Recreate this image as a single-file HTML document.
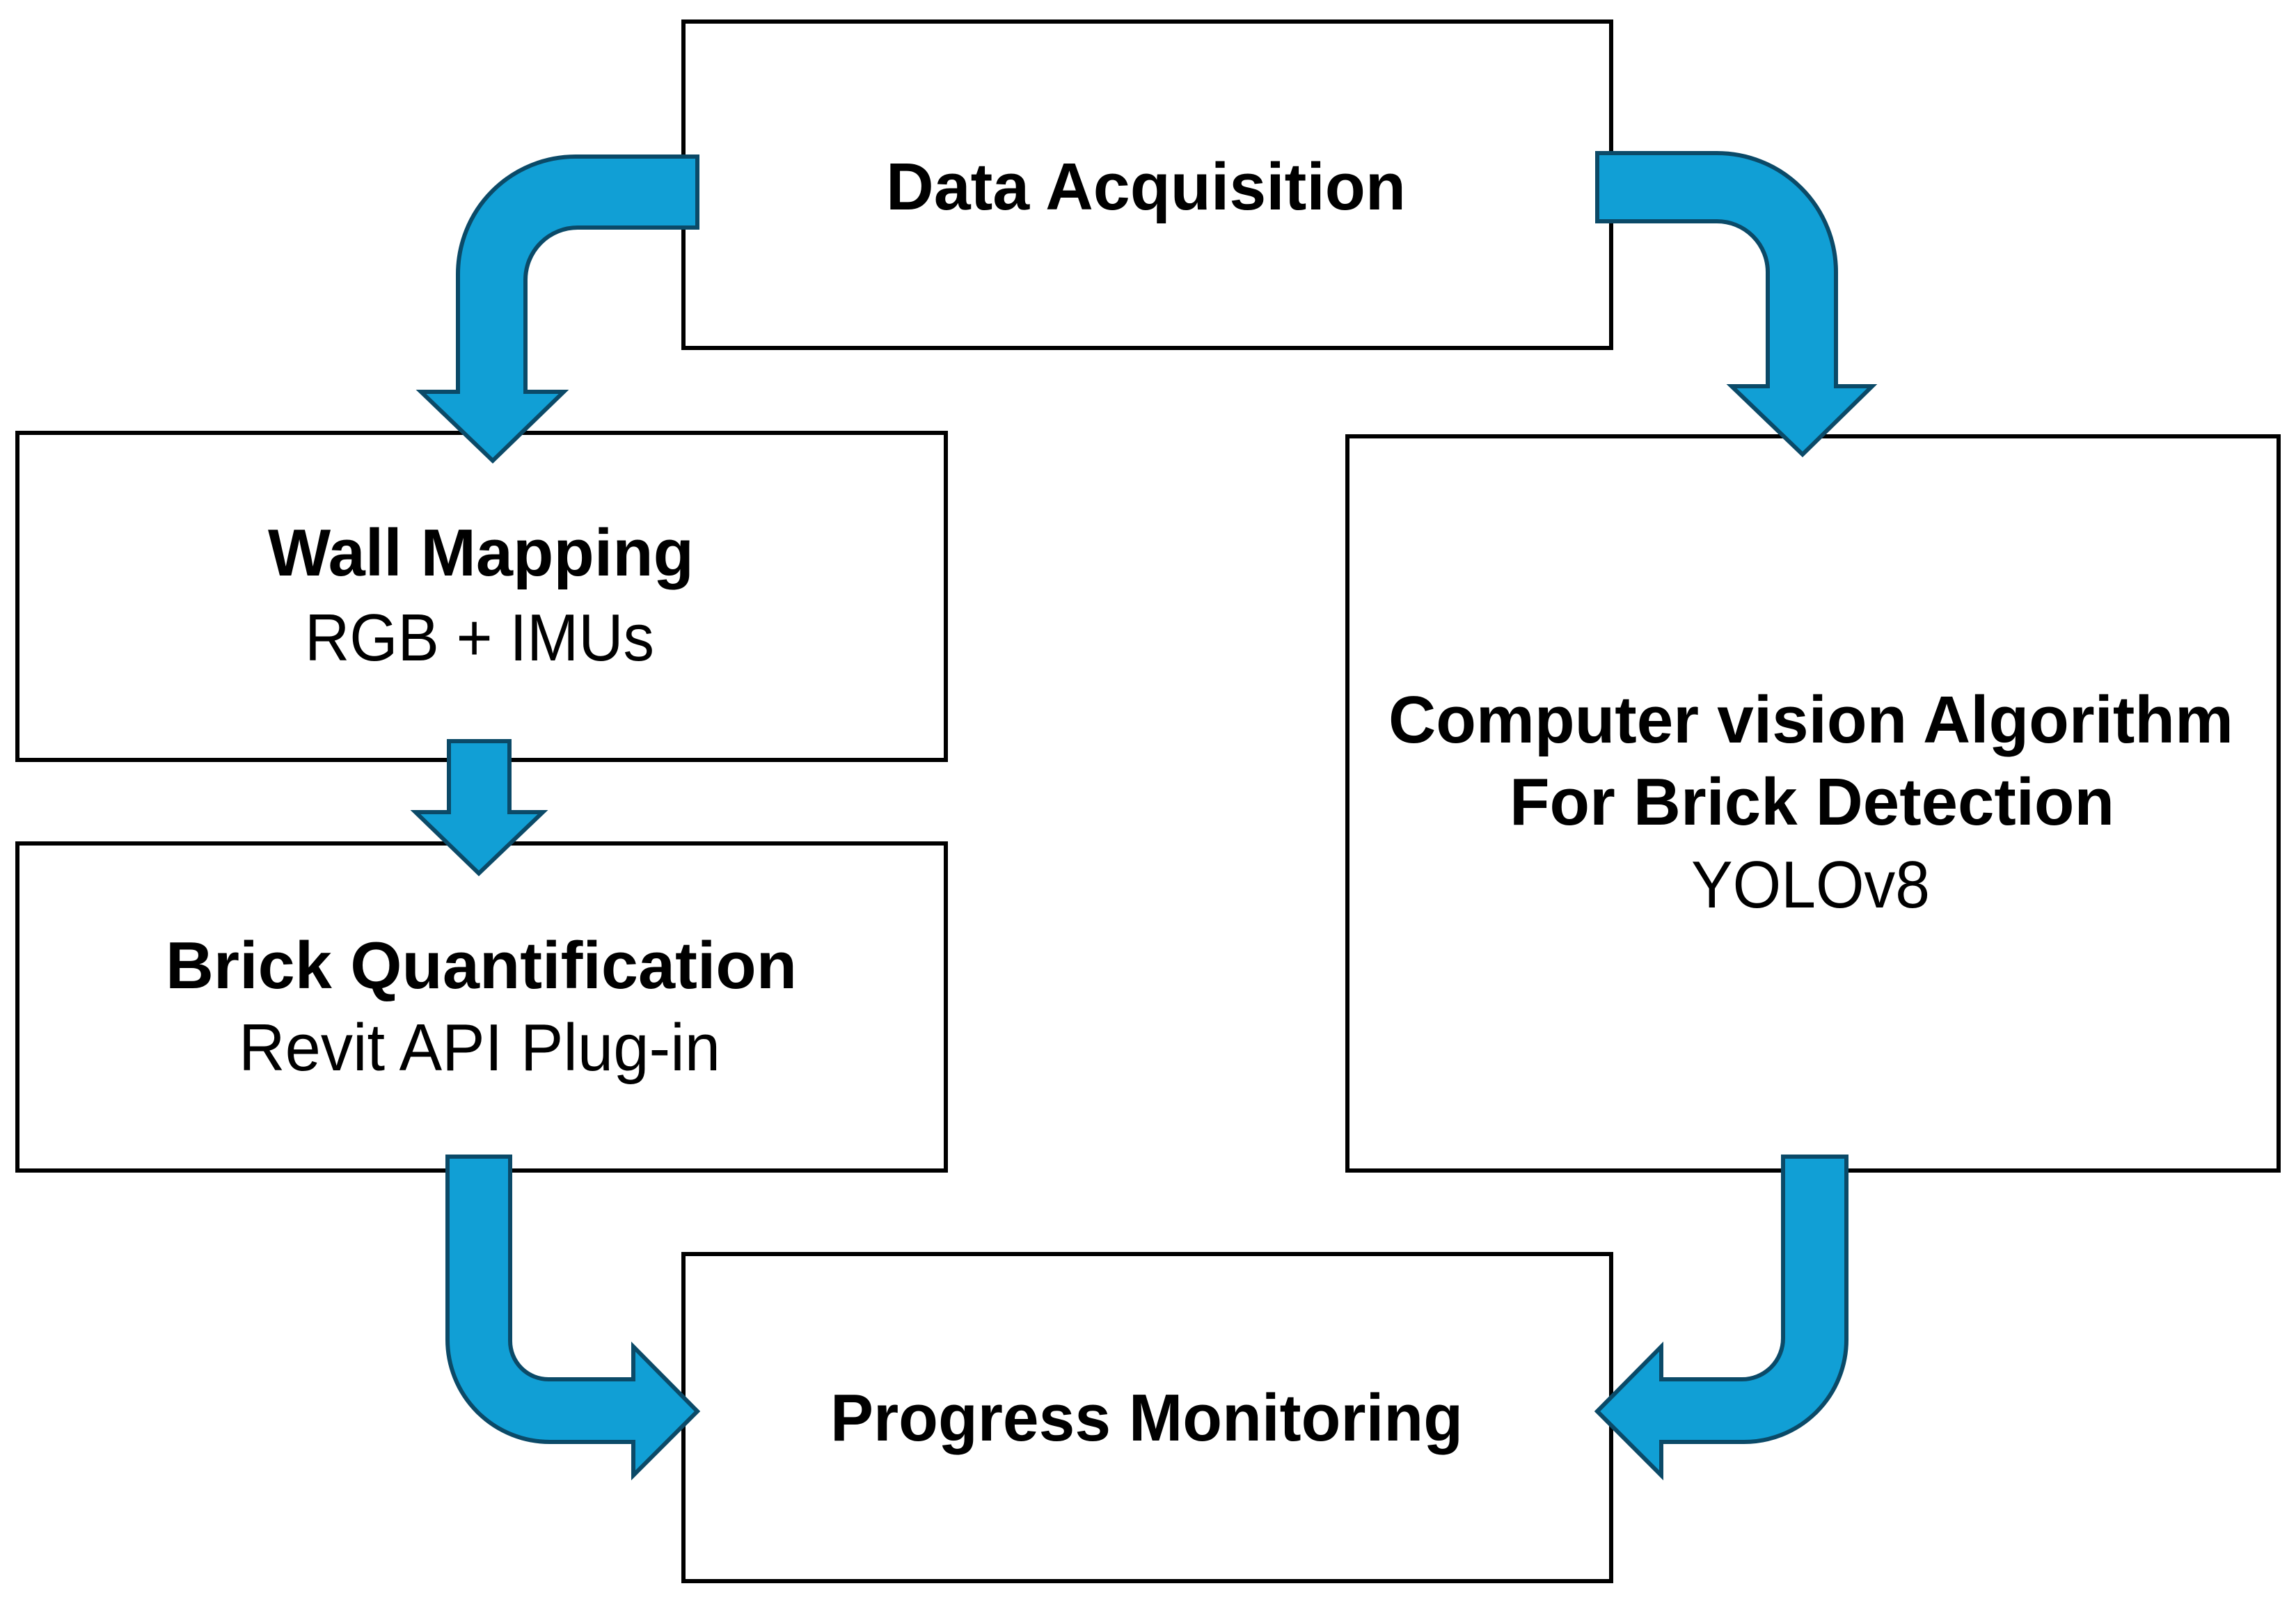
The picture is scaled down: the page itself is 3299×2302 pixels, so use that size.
<!DOCTYPE html>
<html><head><meta charset="utf-8"><style>
html,body{margin:0;padding:0;background:#fff;}
svg{display:block;}
text{font-family:"Liberation Sans",Arial,sans-serif;fill:#000;}
.b{font-weight:bold;}
</style></head><body>
<svg width="3299" height="2302" viewBox="0 0 3299 2302" xmlns="http://www.w3.org/2000/svg">
<rect x="0" y="0" width="3299" height="2302" fill="#fff"/>
<g fill="#fff" stroke="#000" stroke-width="6">
<rect x="982" y="31" width="1333" height="469"/>
<rect x="25" y="622" width="1334" height="470"/>
<rect x="25" y="1212" width="1334" height="470"/>
<rect x="1936" y="627" width="1338" height="1055"/>
<rect x="982" y="1802" width="1333" height="470"/>
</g>
<g font-size="96">
<text class="b" x="1273" y="301" textLength="747" lengthAdjust="spacingAndGlyphs">Data Acquisition</text>
<text class="b" x="385" y="827" textLength="612" lengthAdjust="spacingAndGlyphs">Wall Mapping</text>
<text x="438" y="949" textLength="502" lengthAdjust="spacingAndGlyphs">RGB + IMUs</text>
<text class="b" x="238" y="1420" textLength="907" lengthAdjust="spacingAndGlyphs">Brick Quantification</text>
<text x="343" y="1538" textLength="692" lengthAdjust="spacingAndGlyphs">Revit API Plug-in</text>
<text class="b" x="1995" y="1067" textLength="1214" lengthAdjust="spacingAndGlyphs">Computer vision Algorithm</text>
<text class="b" x="2169" y="1185" textLength="869" lengthAdjust="spacingAndGlyphs">For Brick Detection</text>
<text x="2430" y="1304" textLength="343" lengthAdjust="spacingAndGlyphs">YOLOv8</text>
<text class="b" x="1193" y="2070" textLength="909" lengthAdjust="spacingAndGlyphs">Progress Monitoring</text>
</g>
<g fill="#119fd5" stroke="#0b4a68" stroke-width="6" stroke-linejoin="miter">
<path d="M1002 225 L827 225 A169 169 0 0 0 658 394 L658 563 L605 563 L708 662 L810 563 L755 563 L755 402 A75 75 0 0 1 830 327 L1002 327 Z"/>
<path d="M2295 220 L2467 220 A171 171 0 0 1 2638 391 L2638 555 L2690 555 L2590 653 L2488 555 L2540 555 L2540 391 A73 73 0 0 0 2467 318 L2295 318 Z"/>
<path d="M645 1065 L732 1065 L732 1167 L780 1167 L688 1255 L597 1167 L645 1167 Z"/>
<path d="M643 1662 L733 1662 L733 1927 A55 55 0 0 0 788 1982 L910 1982 L910 1935 L1002 2028 L910 2120 L910 2072 L790 2072 A147 147 0 0 1 643 1925 Z"/>
<path d="M2562 1662 L2653 1662 L2653 1925 A147 147 0 0 1 2506 2072 L2387 2072 L2387 2120 L2295 2028 L2387 1935 L2387 1982 L2503 1982 A59 59 0 0 0 2562 1923 Z"/>
</g>
</svg>
</body></html>
